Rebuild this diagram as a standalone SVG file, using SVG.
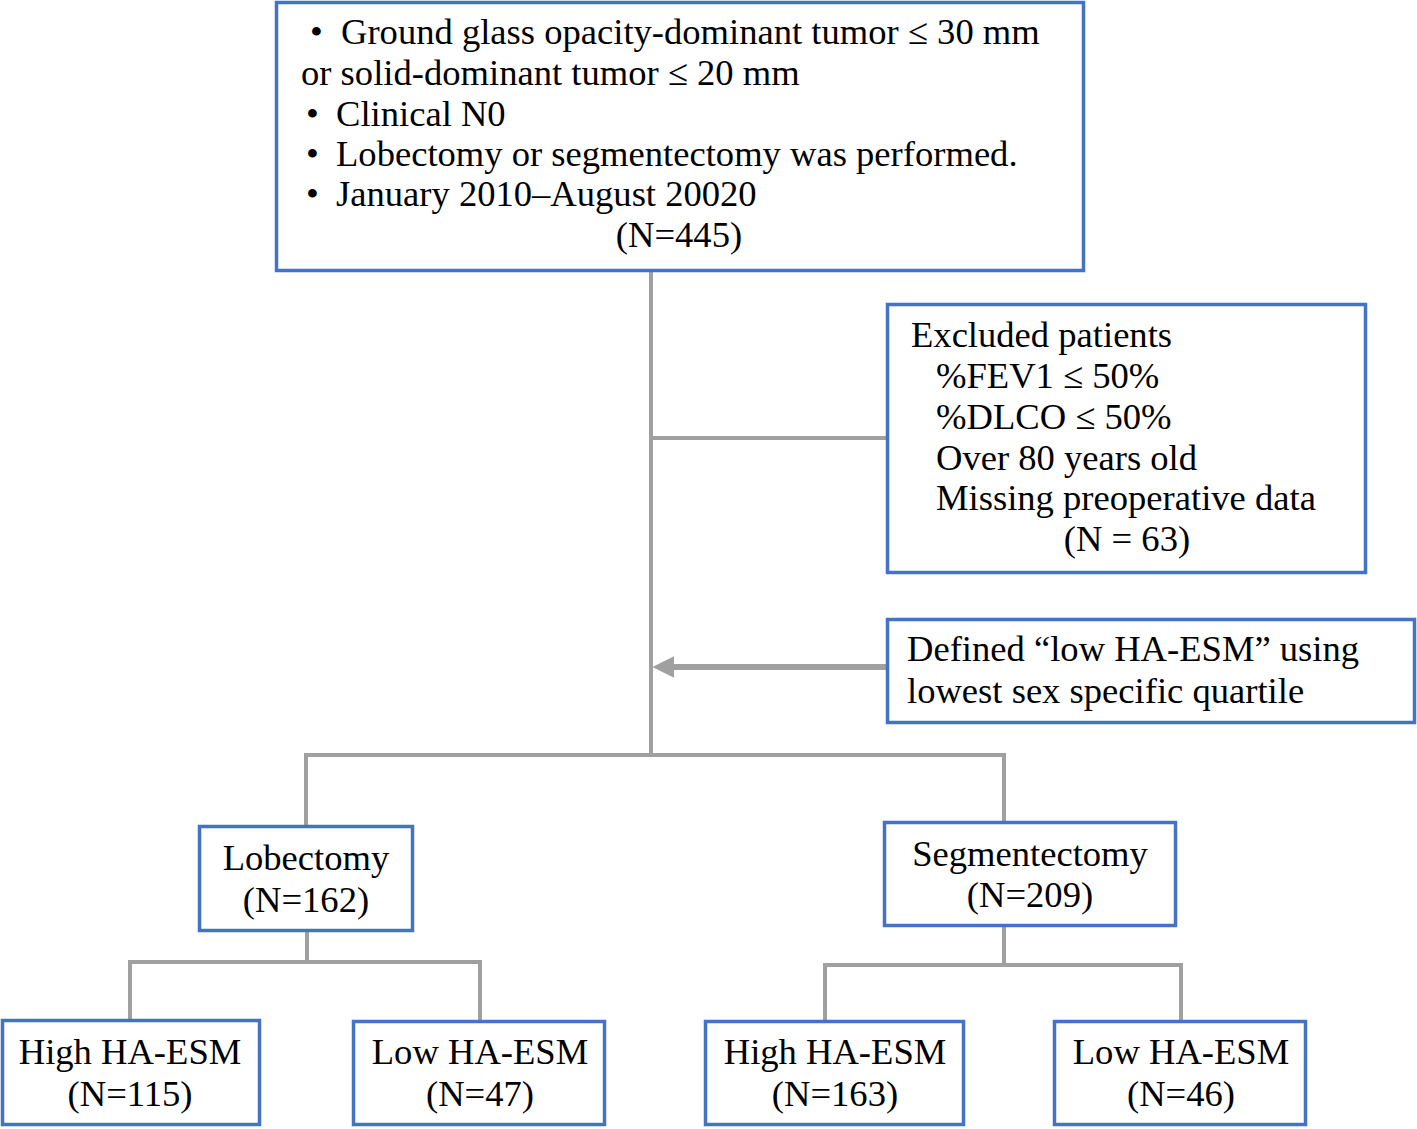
<svg xmlns="http://www.w3.org/2000/svg" width="1417" height="1129" viewBox="0 0 1417 1129">
<style>
.box{fill:#fff;stroke:#4472C4;stroke-width:3.5}
.t{font-family:"Liberation Serif","Times New Roman",serif;font-size:36.6px;fill:#000}
.c{text-anchor:middle}
.ln{fill:none;stroke:#A0A0A0;stroke-width:4}
</style>
<defs>
<marker id="ah" viewBox="0 0 10 10" refX="0" refY="5" markerWidth="3.6" markerHeight="3.6" orient="auto" markerUnits="strokeWidth">
<path d="M0,0 L10,5 L0,10 Z" fill="#A0A0A0"/>
</marker>
</defs>
<g id="connectors">
<path class="ln" d="M651,271 V755"/>
<path class="ln" d="M651,438 H887"/>
<path class="ln" d="M886,667 H674" style="stroke-width:6" marker-end="url(#ah)"/>
<path class="ln" d="M306,826 V755 H1004 V822"/>
<path class="ln" d="M307,931 V962"/>
<path class="ln" d="M130,1020 V962 H480 V1021"/>
<path class="ln" d="M1004,926 V965"/>
<path class="ln" d="M825,1021 V965 H1181 V1021"/>
</g>
<g id="top">
<rect class="box" x="276.5" y="2.5" width="807" height="268"/>
<text class="t" y="44"><tspan x="310">•</tspan><tspan x="341">Ground glass opacity-dominant tumor ≤ 30 mm</tspan></text>
<text class="t" x="301" y="85">or solid-dominant tumor ≤ 20 mm</text>
<text class="t" y="126"><tspan x="306">•</tspan><tspan x="336">Clinical N0</tspan></text>
<text class="t" y="166"><tspan x="306">•</tspan><tspan x="336">Lobectomy or segmentectomy was performed.</tspan></text>
<text class="t" y="206"><tspan x="306">•</tspan><tspan x="336">January 2010–August 20020</tspan></text>
<text class="t c" x="679" y="247">(N=445)</text>
</g>
<g id="excluded">
<rect class="box" x="887.5" y="304.5" width="478" height="268"/>
<text class="t" x="911" y="347">Excluded patients</text>
<text class="t" x="936" y="388">%FEV1 ≤ 50%</text>
<text class="t" x="936" y="429">%DLCO ≤ 50%</text>
<text class="t" x="936" y="470">Over 80 years old</text>
<text class="t" x="936" y="510">Missing preoperative data</text>
<text class="t c" x="1127" y="551">(N = 63)</text>
</g>
<g id="defined">
<rect class="box" x="887.5" y="619.5" width="527" height="103"/>
<text class="t" x="907" y="661">Defined “low HA-ESM” using</text>
<text class="t" x="907" y="703">lowest sex specific quartile</text>
</g>
<g id="lobectomy">
<rect class="box" x="199.5" y="826.5" width="213" height="104"/>
<text class="t c" x="306" y="870">Lobectomy</text>
<text class="t c" x="306" y="912">(N=162)</text>
</g>
<g id="segmentectomy">
<rect class="box" x="884.5" y="822.5" width="291" height="103"/>
<text class="t c" x="1030" y="866">Segmentectomy</text>
<text class="t c" x="1030" y="907">(N=209)</text>
</g>
<g id="lob-high">
<rect class="box" x="2.5" y="1020.5" width="257" height="104"/>
<text class="t c" x="130" y="1064">High HA-ESM</text>
<text class="t c" x="130" y="1106">(N=115)</text>
</g>
<g id="lob-low">
<rect class="box" x="353.5" y="1021.5" width="251" height="103"/>
<text class="t c" x="480" y="1064">Low HA-ESM</text>
<text class="t c" x="480" y="1106">(N=47)</text>
</g>
<g id="seg-high">
<rect class="box" x="705.5" y="1021.5" width="258" height="103"/>
<text class="t c" x="835" y="1064">High HA-ESM</text>
<text class="t c" x="835" y="1106">(N=163)</text>
</g>
<g id="seg-low">
<rect class="box" x="1054.5" y="1021.5" width="251" height="103"/>
<text class="t c" x="1181" y="1064">Low HA-ESM</text>
<text class="t c" x="1181" y="1106">(N=46)</text>
</g>
</svg>
